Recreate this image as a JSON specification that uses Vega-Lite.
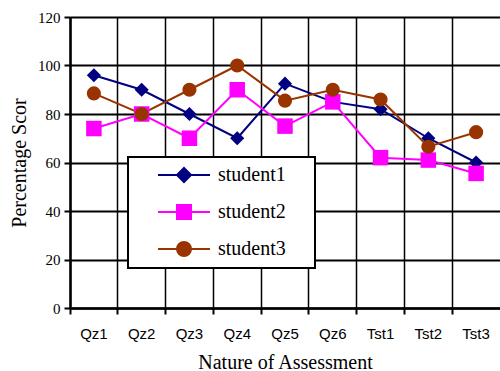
{
  "$schema": "https://vega.github.io/schema/vega-lite/v6.json",
  "width": 430,
  "height": 291,
  "autosize": {"type": "none"},
  "padding": {"left": 70, "top": 17, "right": 0, "bottom": 63},
  "background": "white",
  "config": {
    "view": {"stroke": null},
    "axis": {"domainColor": "black", "tickColor": "black", "gridColor": "black", "labelColor": "black", "titleColor": "black", "gridOpacity": 1}
  },
  "data": {
    "values": [
      {"assessment": "Qz1", "student": "student1", "score": 96},
      {"assessment": "Qz2", "student": "student1", "score": 90},
      {"assessment": "Qz3", "student": "student1", "score": 80},
      {"assessment": "Qz4", "student": "student1", "score": 70},
      {"assessment": "Qz5", "student": "student1", "score": 92.5},
      {"assessment": "Qz6", "student": "student1", "score": 85},
      {"assessment": "Tst1", "student": "student1", "score": 82},
      {"assessment": "Tst2", "student": "student1", "score": 70},
      {"assessment": "Tst3", "student": "student1", "score": 60},
      {"assessment": "Qz1", "student": "student2", "score": 74},
      {"assessment": "Qz2", "student": "student2", "score": 80},
      {"assessment": "Qz3", "student": "student2", "score": 70},
      {"assessment": "Qz4", "student": "student2", "score": 90},
      {"assessment": "Qz5", "student": "student2", "score": 75},
      {"assessment": "Qz6", "student": "student2", "score": 85},
      {"assessment": "Tst1", "student": "student2", "score": 62},
      {"assessment": "Tst2", "student": "student2", "score": 61},
      {"assessment": "Tst3", "student": "student2", "score": 55.5},
      {"assessment": "Qz1", "student": "student3", "score": 88.5},
      {"assessment": "Qz2", "student": "student3", "score": 80},
      {"assessment": "Qz3", "student": "student3", "score": 90},
      {"assessment": "Qz4", "student": "student3", "score": 100},
      {"assessment": "Qz5", "student": "student3", "score": 85.5},
      {"assessment": "Qz6", "student": "student3", "score": 90},
      {"assessment": "Tst1", "student": "student3", "score": 86},
      {"assessment": "Tst2", "student": "student3", "score": 66.5},
      {"assessment": "Tst3", "student": "student3", "score": 72.5}
    ]
  },
  "encoding": {
    "x": {
      "field": "assessment", "type": "nominal", "sort": null,
      "scale": {"type": "band", "paddingInner": 0, "paddingOuter": 0},
      "axis": {
        "title": "Nature of Assessment", "titleFont": "Liberation Serif", "titleFontSize": 20, "titleFontWeight": "normal", "titlePadding": 11,
        "labelAngle": 0, "labelFont": "Liberation Sans", "labelFontSize": 15, "labelPadding": 12,
        "bandPosition": 0, "grid": true, "gridWidth": 1.5,
        "tickSize": 6, "tickWidth": 2, "domainWidth": 2.5
      }
    },
    "y": {
      "field": "score", "type": "quantitative",
      "scale": {"domain": [0, 120], "nice": false, "zero": true},
      "axis": {
        "title": "Percentage Scor", "titleFont": "Liberation Serif", "titleFontSize": 20, "titleFontWeight": "normal", "titlePadding": 8,
        "labelFont": "Liberation Serif", "labelFontSize": 15, "labelPadding": 4,
        "values": [0, 20, 40, 60, 80, 100, 120], "grid": true, "gridWidth": 2,
        "tickSize": 6, "tickWidth": 2, "domainWidth": 2.5
      }
    },
    "color": {
      "field": "student", "type": "nominal",
      "scale": {"domain": ["student1", "student2", "student3"], "range": ["#000080", "#FF00FF", "#993300"]},
      "legend": {
        "title": null, "orient": "none", "legendX": 58, "legendY": 140,
        "padding": 8, "rowPadding": 15, "symbolSize": 4, "labelOffset": 62,
        "labelFont": "Liberation Serif", "labelFontSize": 20, "labelColor": "black",
        "fillColor": "white", "strokeColor": "black",
        "encode": {
          "legend": {"update": {"stroke": {"value": "black"}, "strokeWidth": {"value": 2}, "fill": {"value": "white"}}},
          "symbols": {"update": {
            "shape": {"signal": "datum.value === 'student1' ? 'M-22,0M12,0L64,0M38,-7L45,0L38,7L31,0ZM157,0' : datum.value === 'student2' ? 'M-22,0M12,0L64,0M31,-7L45,-7L45,7L31,7ZM157,0' : 'M-22,0M12,0L64,0M31,0A7,7 0 1,0 45,0A7,7 0 1,0 31,0ZM157,0'"},
            "size": {"value": 4},
            "fill": {"signal": "scale('color', datum.value)"},
            "stroke": {"signal": "scale('color', datum.value)"},
            "strokeWidth": {"value": 2},
            "opacity": {"value": 1}
          }}
        }
      }
    }
  },
  "layer": [
    {"mark": {"type": "line", "strokeWidth": 2}},
    {
      "transform": [{"filter": "datum.student === 'student1'"}],
      "mark": {"type": "point", "filled": true, "opacity": 1, "shape": "diamond", "size": 200}
    },
    {
      "transform": [{"filter": "datum.student === 'student2'"}],
      "mark": {"type": "point", "filled": true, "opacity": 1, "shape": "square", "size": 240}
    },
    {
      "transform": [{"filter": "datum.student === 'student3'"}],
      "mark": {"type": "point", "filled": true, "opacity": 1, "shape": "circle", "size": 200}
    }
  ]
}
